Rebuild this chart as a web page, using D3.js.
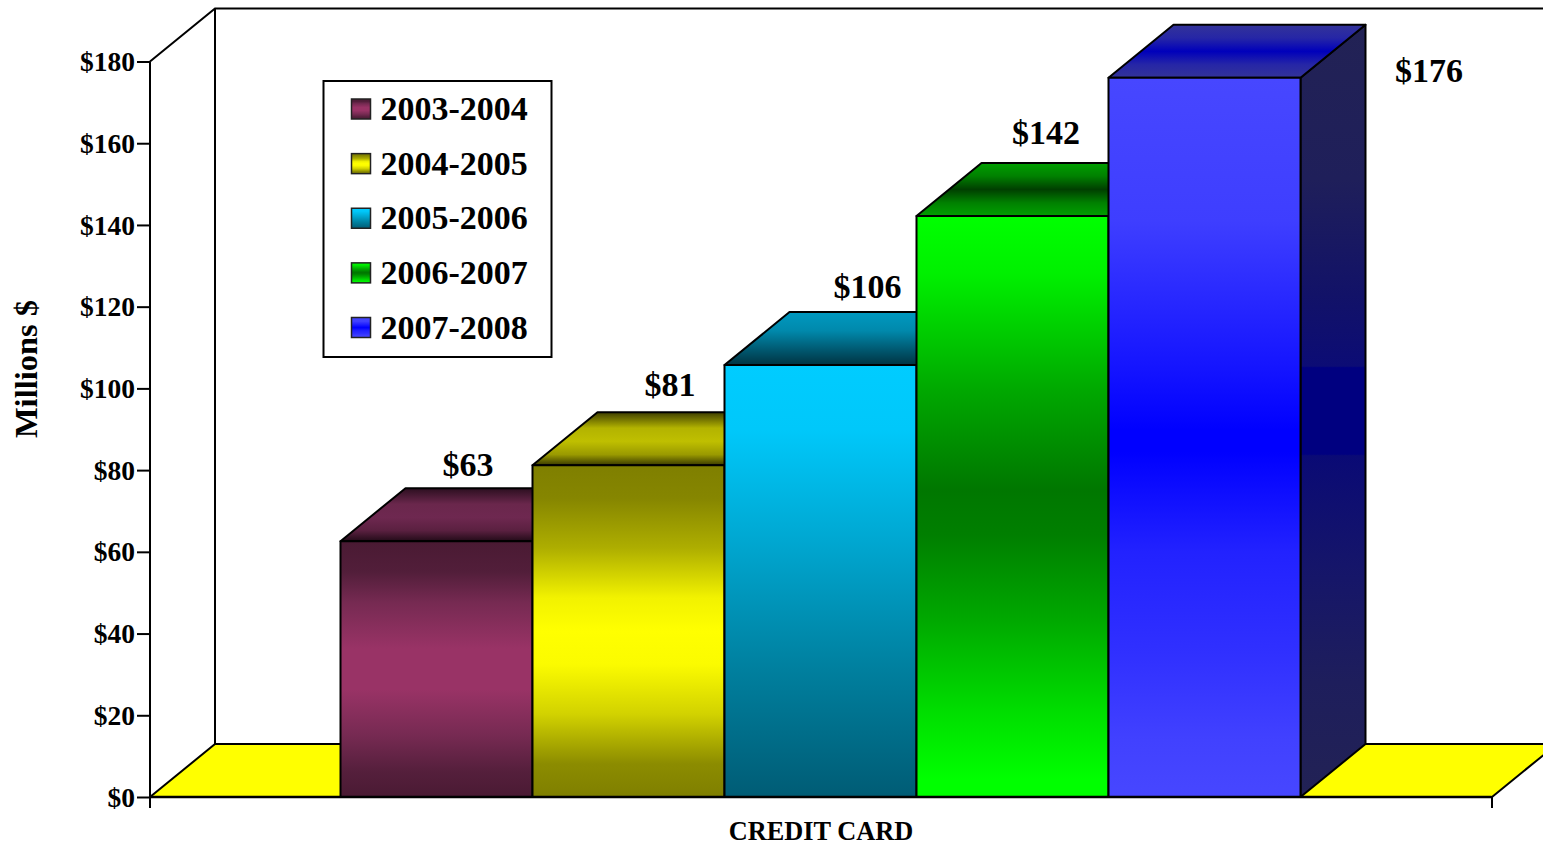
<!DOCTYPE html>
<html>
<head>
<meta charset="utf-8">
<script src="https://cdn.jsdelivr.net/npm/d3@7/dist/d3.min.js"></script>
<style>
html,body{margin:0;padding:0;background:#fff;overflow:hidden}
svg{display:block}
text{font-family:"Liberation Serif","Times New Roman",serif;font-weight:bold;fill:#000}
</style>
</head>
<body>
<script>
const periods = ["2003-2004","2004-2005","2005-2006","2006-2007","2007-2008"];
const values = [62.6,81.2,105.7,142.2,176];
const valueLabels = ["$63","$81","$106","$142","$176"];
const yTicks = [0,20,40,60,80,100,120,140,160,180];
const category = "CREDIT CARD";
const yTitle = "Millions $";

// gradient stops per series: [offset, colour]
const frontStops = [
  [[0,"#4a1a33"],[.12,"#521e3a"],[.24,"#762a52"],[.42,"#993366"],[.58,"#993366"],[.76,"#762a52"],[.9,"#551f3c"],[1,"#4a1a33"]],
  [[0,"#7f7f00"],[.1,"#868600"],[.25,"#aeae00"],[.4,"#f2f200"],[.5,"#ffff00"],[.6,"#fbfb00"],[.75,"#d2d200"],[.9,"#8c8c00"],[1,"#7f7f00"]],
  [[0,"#00ccff"],[.15,"#00c8fa"],[.4,"#00a8d2"],[.7,"#00809f"],[1,"#005c75"]],
  [[0,"#00ff00"],[.1,"#00f000"],[.3,"#00a800"],[.47,"#007700"],[.55,"#007f00"],[.7,"#00aa00"],[.85,"#00dd00"],[.97,"#00ff00"],[1,"#00ff00"]],
  [[0,"#4747ff"],[.2,"#3e3eff"],[.4,"#1515ff"],[.49,"#0000ff"],[.52,"#0000ff"],[.66,"#2222ff"],[.8,"#3030ff"],[.92,"#4141ff"],[1,"#4747ff"]]
];
const topStops = [
  [[0,"#2c0f20"],[.3,"#6a274c"],[.55,"#6e2850"],[.8,"#5a2040"],[1,"#220b18"]],
  [[0,"#3f3f00"],[.3,"#b3b300"],[.55,"#bfbf00"],[.8,"#9a9a00"],[1,"#3a3a00"]],
  [[0,"#0099c0"],[.35,"#0089ac"],[.7,"#005a72"],[1,"#003342"]],
  [[0,"#00a000"],[.25,"#008000"],[.5,"#003f00"],[.75,"#008000"],[1,"#00a000"]],
  [[0,"#333399"],[.25,"#2626a6"],[.5,"#0000bb"],[.75,"#2626a6"],[1,"#333399"]]
];
const sideStops = [
  [[0,"#2a1020"],[1,"#2a1020"]],
  [[0,"#404000"],[1,"#404000"]],
  [[0,"#004050"],[1,"#004050"]],
  [[0,"#004000"],[1,"#004000"]],
  [[0,"#222255"],[.2,"#1f1f5a"],[.35,"#121268"],[.442,"#0c0c75"],[.444,"#000080"],[.556,"#000080"],[.558,"#0a0a75"],[.7,"#15156a"],[.85,"#1e1e5c"],[1,"#222255"]]
];
// label placement relative to each bar's left edge and its back top edge
const labelDx = [127.5,137.5,143,129.5,320.5];
const labelDy = [-12,-16,-14,-19,57];

const W = 1543, H = 843;
const axisX = 150, axisEnd = 1492, baseY = 797, topY = 61.5;
const depthX = 65, depthY = 53;
const sw = 2;

const svg = d3.select("body").append("svg").attr("width",W).attr("height",H);
const defs = svg.append("defs");

function grad(id, stops){
  const g = defs.append("linearGradient").attr("id",id)
    .attr("x1",0).attr("y1",0).attr("x2",0).attr("y2",1);
  stops.forEach(s=>g.append("stop").attr("offset",s[0]).attr("stop-color",s[1]));
}
periods.forEach((p,i)=>{
  grad("front"+i,frontStops[i]);
  grad("top"+i,topStops[i]);
  grad("side"+i,sideStops[i]);
});

const y = d3.scaleLinear().domain([0,180]).range([baseY,topY]);
const x = d3.scaleBand().domain(periods).range([340.5,1300.5]);

// back wall and floor
const line = d3.line();
svg.append("path")
  .attr("d",line([[axisX,baseY],[axisX+depthX,baseY-depthY],[axisEnd+depthX,baseY-depthY],[axisEnd,baseY]])+"Z")
  .attr("fill","#ffff00").attr("stroke","#000").attr("stroke-width",sw).attr("stroke-linejoin","round");
svg.append("path")
  .attr("d",line([[axisX,topY],[axisX+depthX,topY-depthY],[W+30,topY-depthY]]))
  .attr("fill","none").attr("stroke","#000").attr("stroke-width",sw);
svg.append("path")
  .attr("d",line([[axisX+depthX,topY-depthY],[axisX+depthX,baseY-depthY]]))
  .attr("fill","none").attr("stroke","#000").attr("stroke-width",sw);

// bars
const bars = svg.selectAll("g.bar").data(periods).join("g").attr("class","bar");
bars.each(function(p,i){
  const g = d3.select(this);
  const x0 = x(p), x1 = x0 + x.bandwidth(), yt = y(values[i]), yb = y(0);
  const face = (pts,fill)=>g.append("path").attr("d",line(pts)+"Z")
    .attr("fill",fill).attr("stroke","#000").attr("stroke-width",sw).attr("stroke-linejoin","round");
  face([[x1,yb],[x1+depthX,yb-depthY],[x1+depthX,yt-depthY],[x1,yt]],`url(#side${i})`);
  face([[x0,yt],[x0+depthX,yt-depthY],[x1+depthX,yt-depthY],[x1,yt]],`url(#top${i})`);
  face([[x0,yt],[x1,yt],[x1,yb],[x0,yb]],`url(#front${i})`);
});

// value labels, drawn above every bar
svg.selectAll("text.val").data(periods).join("text").attr("class","val")
  .attr("x",(p,i)=>x(p)+labelDx[i])
  .attr("y",(p,i)=>y(values[i])-depthY+labelDy[i])
  .attr("text-anchor","middle").attr("font-size",34)
  .text((p,i)=>valueLabels[i]);

// axes
const yAxis = d3.axisLeft(y).tickValues(yTicks).tickSize(13).tickPadding(2).tickFormat(d=>"$"+d);
const yG = svg.append("g").attr("transform",`translate(${axisX},0)`).call(yAxis);
yG.select(".domain").attr("stroke","#000").attr("stroke-width",sw).attr("d",`M0,${topY}V${baseY}`);
yG.selectAll(".tick line").attr("stroke","#000").attr("stroke-width",sw);
yG.selectAll(".tick text").attr("font-size",27.5).attr("dy","0.33em").attr("fill","#000");
yG.attr("font-family",null).attr("font-size",null);

const xCat = d3.scalePoint().domain([0,1]).range([axisX,axisEnd]);
const xG = svg.append("g").attr("transform",`translate(-0.5,${baseY})`)
  .call(d3.axisBottom(xCat).tickSize(11).tickFormat(""));
xG.select(".domain").attr("stroke","#000").attr("stroke-width",2.5).attr("d",`M${axisX},0H${axisEnd}`);
xG.selectAll(".tick line").attr("stroke","#000").attr("stroke-width",sw);

svg.append("text").attr("x",821).attr("y",840).attr("text-anchor","middle")
  .attr("font-size",26.3).text(category);
svg.append("text").attr("transform","translate(37,369) rotate(-90)")
  .attr("text-anchor","middle").attr("font-size",32.5).text(yTitle);

// legend
const legend = svg.append("g");
legend.append("rect").attr("x",323.5).attr("y",81).attr("width",228).attr("height",276)
  .attr("fill","#fff").attr("stroke","#000").attr("stroke-width",sw);
const legendY = d3.scalePoint().domain(periods).range([109,327.5]);
periods.forEach((p,i)=>{
  const cy = legendY(p);
  legend.append("rect").attr("x",351.5).attr("y",cy-10).attr("width",19).attr("height",20)
    .attr("fill",`url(#front${i})`).attr("stroke","#222").attr("stroke-width",1.5);
  legend.append("text").attr("x",380.5).attr("y",cy+11).attr("font-size",34).text(p);
});
</script>
</body>
</html>
